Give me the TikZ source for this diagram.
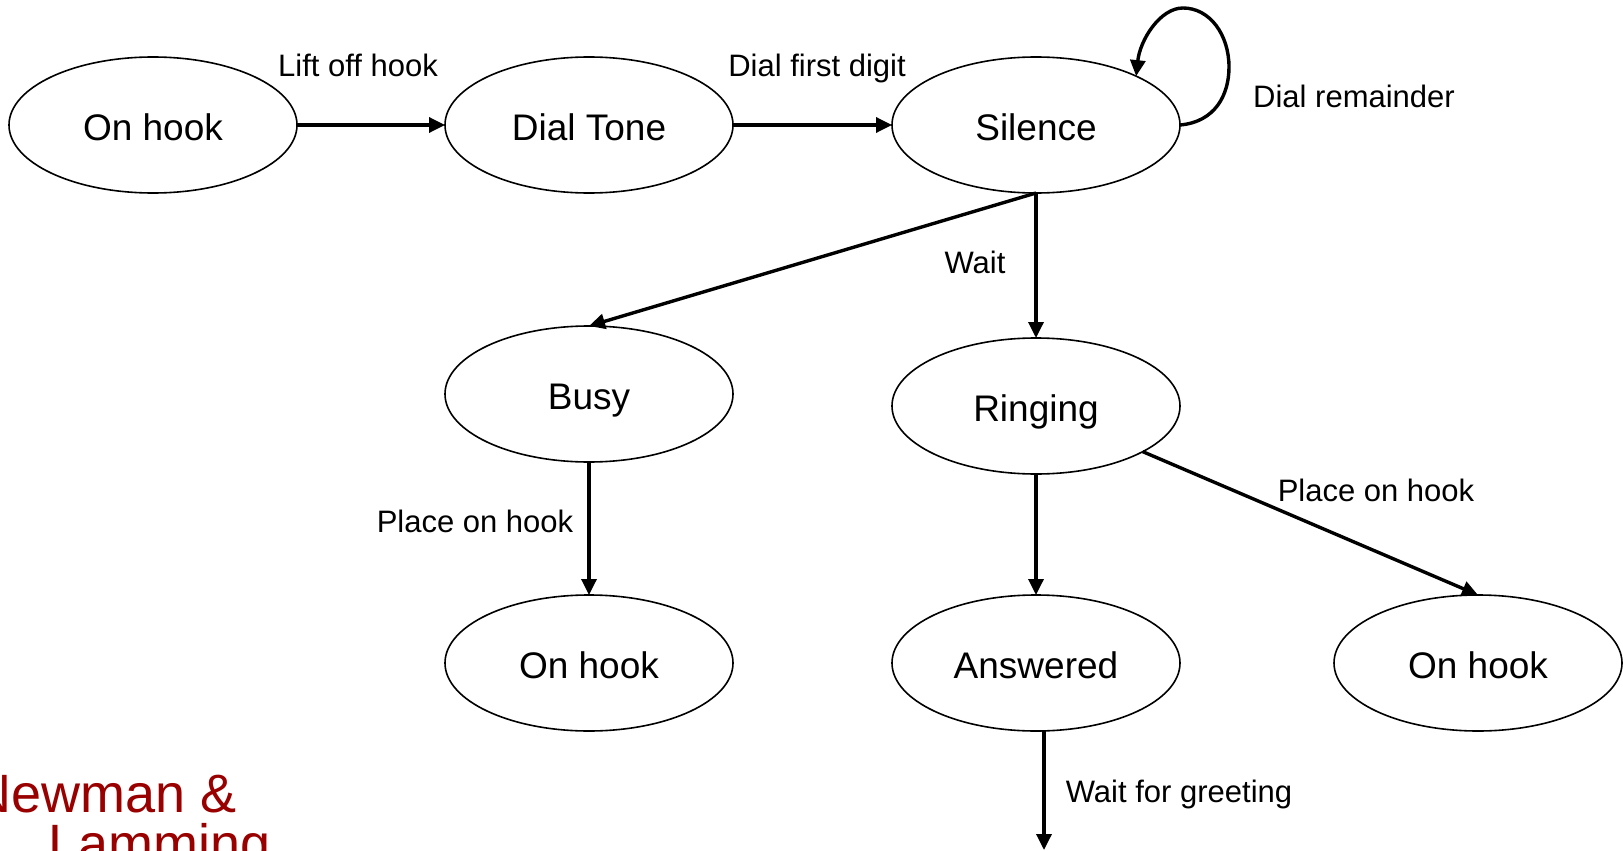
\documentclass[tikz,border=0pt]{standalone}
\usepackage{fontspec}
\setmainfont{Liberation Sans}
\usetikzlibrary{shapes.geometric,arrows.meta}
\definecolor{nlred}{HTML}{990000}
\begin{document}
\begin{tikzpicture}[x=1pt,y=-1pt,
  state/.style={draw, ellipse, line width=1.6pt, inner sep=0pt, outer sep=0pt,
    minimum width=288pt, minimum height=136pt, text height=30pt, text depth=0pt,
    font=\fontsize{37}{44}\selectfont},
  lbl/.style={anchor=base, inner sep=0pt, font=\fontsize{31}{37}\selectfont},
  conn/.style={line width=3.4pt, -{Triangle[length=16pt,width=15pt]}},
  credit/.style={anchor=base west, inner sep=0pt, text=nlred, font=\fontsize{54}{60}\selectfont}]
\useasboundingbox (0,0) rectangle (1623,851);

\node[state] (oh1) at (153,125) {On hook};
\node[state] (dt)  at (589,125) {Dial Tone};
\node[state] (sil) at (1036,125) {Silence};
\node[state] (busy) at (589,394) {Busy};
\node[state] (ring) at (1036,406) {Ringing};
\node[state] (oh2) at (589,663) {On hook};
\node[state] (ans) at (1036,663) {Answered};
\node[state] (oh3) at (1478,663) {On hook};
\coordinate (greetend) at (1044,850);

\draw[conn] (oh1) -- (dt);
\draw[conn] (dt) -- (sil);
\draw[conn] (sil.east) .. controls (1215,122) and (1229,95) .. (1229,67)
  .. controls (1229,35) and (1210,8) .. (1183,8)
  .. controls (1160,8) and (1140,40) .. (sil.26);
\draw[conn] (sil.south) -- (busy.north);
\draw[conn] (sil.south) -- (ring.north);
\draw[conn] (busy.south) -- (oh2.north);
\draw[conn] (ring.south) -- (ans.north);
\draw[conn] (ring) -- (oh3.north);
\draw[conn] (ans.south -| greetend) -- (greetend);

\node[lbl] (l1) at (358,77) {Lift off hook};
\node[lbl] (l2) at (817,77) {Dial first digit};
\node[lbl] (l3) at (1354,107) {Dial remainder};
\node[lbl] (l4) at (975,273) {Wait};
\node[lbl] (l5) at (475,532) {Place on hook};
\node[lbl] (l6) at (1376,501) {Place on hook};
\node[lbl] (l7) at (1179,802) {Wait for greeting};

\node[credit] (nl1) at (-28,812) {Newman \&};
\node[credit] (nl2) at (48,862) {Lamming};
\end{tikzpicture}
\end{document}
